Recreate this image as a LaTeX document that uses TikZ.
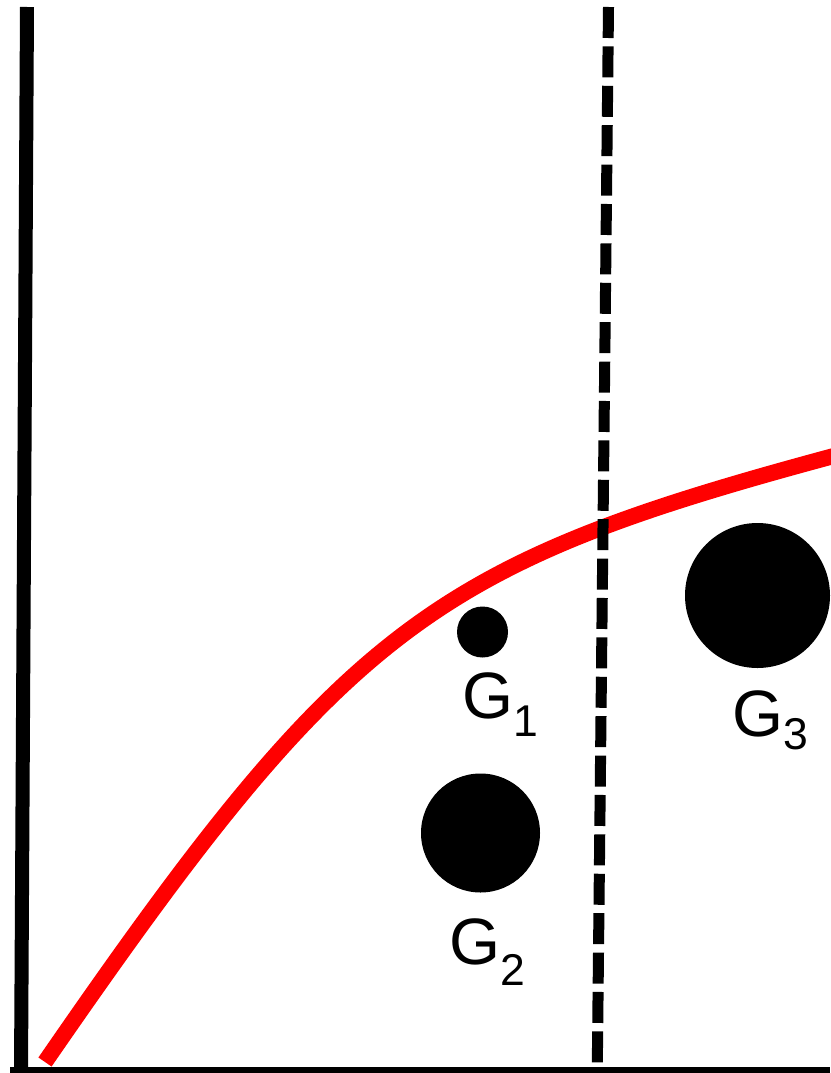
\documentclass[tikz,border=0pt]{standalone}
\usepackage{fontspec}
\setmainfont{Liberation Sans}
\newcommand\lowsub[2]{\raisebox{-#1pt}{\fontsize{44.5}{48}\selectfont #2}}
\begin{document}
\begin{tikzpicture}[x=1pt,y=-1pt,
  axisline/.style={line width=14pt, black},
  baseaxis/.style={line width=6.4pt, black},
  divider/.style={line width=11pt, black, dash pattern=on 31pt off 8.4pt},
  curveline/.style={red, line width=16pt},
  dot/.style={circle, fill=black, inner sep=0pt},
  lbl/.style={anchor=base west, inner sep=0pt, font=\fontsize{65.6}{70}\selectfont}]
\useasboundingbox (0,0) rectangle (830,1073);
% axes
\coordinate (ytop) at (27,7);
\coordinate (ybot) at (21,1073);
\coordinate (xleft) at (10,1069.8);
\coordinate (xright) at (830,1069.8);
\draw[axisline] (ytop) -- (ybot);
\draw[baseaxis] (xleft) -- (xright);
% red curve
\coordinate (cstart) at (45,1062);
\coordinate (cend) at (830,457);
\coordinate (cout) at (860,449);
\draw[curveline] (cstart) .. controls (345,627) and (430,565) .. (cend) -- (cout);
% dashed divider
\coordinate (dtop) at (608.5,7);
\coordinate (dbot) at (597.3,1066);
\draw[divider] (dtop) -- (dbot);
% dots
\node[dot, minimum size=51pt] (g1) at (482.5,632) {};
\node[dot, minimum size=119pt] (g2) at (480.5,833) {};
\node[dot, minimum size=145pt] (g3) at (757.5,595.5) {};
% labels
\node[lbl] (l1) at (461.8,718.5) {G\lowsub{18.2}{1}};
\node[lbl] (l2) at (448.8,964.3) {G\lowsub{20.7}{2}};
\node[lbl] (l3) at (731.8,736) {G\lowsub{13.4}{3}};
\end{tikzpicture}
\end{document}
